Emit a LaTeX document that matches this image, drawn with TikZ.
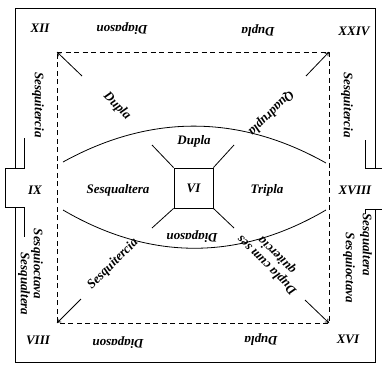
\documentclass[tikz,border=0pt]{standalone}
\usepackage{fontspec}
\setmainfont{Liberation Serif}
\usetikzlibrary{arrows.meta}
\begin{document}
\begin{tikzpicture}[x=1pt,y=-1pt,
  lbl/.style={font=\fontsize{13}{14}\selectfont\bfseries\itshape, inner sep=0pt, align=center},
  num/.style={font=\fontsize{13}{15}\selectfont\bfseries\itshape, inner sep=0pt},
  frm/.style={line width=0.9pt},
  ln/.style={line width=0.8pt},
  dsh/.style={line width=0.8pt, dash pattern=on 5pt off 3.5pt},
  arr/.style={line width=0.8pt, -{To[length=4pt,width=5pt]}}]
\useasboundingbox (0,0) rectangle (382,367);
% outer frame with notches
\draw[frm] (15,168) -- (15,8) -- (375,8) -- (375,168);
\draw[frm] (375,209) -- (375,362) -- (15,362) -- (15,207);
\draw[ln] (24,138) -- (24,168) -- (5,168) -- (5,207) -- (24,207) -- (24,237);
\draw[ln] (365,140) -- (365,168) -- (382,168);
\draw[ln] (382,209) -- (365,209) -- (365,214);
% dashed square
\coordinate (tl) at (57,52);
\coordinate (tr) at (329,52);
\coordinate (br) at (329,323);
\coordinate (bl) at (57,323);
\draw[dsh] (tl) -- (tr) -- (br) -- (bl) -- cycle;
% corner arrows
\coordinate (atl) at (82,76);
\coordinate (atr) at (306,76);
\coordinate (abr) at (305,300);
\coordinate (abl) at (81,299);
\draw[arr] (atl) -- (tl);
\draw[arr] (atr) -- (tr);
\draw[arr] (abr) -- (br);
\draw[arr] (abl) -- (bl);
% lens
\draw[ln] (63,162) .. controls (150,114) and (239,114) .. (326,163);
\draw[ln] (63,210) .. controls (150,261) and (239,261) .. (326,210);
% central square
\node[draw, line width=0.8pt, minimum width=39pt, minimum height=40pt, inner sep=0pt] (sq) at (193.5,188) {};
\node[lbl] (vi) at (193.5,188) {VI};
\coordinate (s1) at (152,145);
\coordinate (s2) at (234,145);
\coordinate (s3) at (234,228);
\coordinate (s4) at (152,228);
\draw[ln] (sq.north west) -- (s1);
\draw[ln] (sq.north east) -- (s2);
\draw[ln] (sq.south east) -- (s3);
\draw[ln] (sq.south west) -- (s4);
% numerals
\node[num] (n12) at (40,28) {XII};
\node[num] (n24) at (354,31) {XXIV};
\node[num] (n8) at (38,340) {VIII};
\node[num] (n16) at (348,339) {XVI};
\node[num] (n9) at (35,190) {IX};
\node[num] (n18) at (355,190) {XVIII};
% top and bottom bands
\node[lbl, rotate=180] (t1) at (122,29) {Diapason};
\node[lbl, rotate=180] (t2) at (258,31) {Dupla};
\node[lbl, rotate=180] (b1) at (118,343) {Diapason};
\node[lbl, rotate=180] (b2) at (261,340) {Dupla};
% side bands
\node[lbl, rotate=-90] (l1) at (38,105) {Sesquitercia};
\node[lbl, rotate=-90] (r1) at (347,105) {Sesquitercia};
\node[lbl, rotate=-90] (l2) at (37,264) {Sesquioctava};
\node[lbl, rotate=-90] (l3) at (24,284) {Sesqualtera};
\node[lbl, rotate=-90] (r2) at (366,245) {Sesqualtera};
\node[lbl, rotate=-90] (r3) at (349,268) {Sesquioctava};
% inner labels
\node[lbl] (c1) at (194,141) {Dupla};
\node[lbl] (c2) at (118,190) {Sesqualtera};
\node[lbl] (c3) at (267,190) {Tripla};
\node[lbl, rotate=180] (c4) at (192,237) {Diapason};
% diagonal labels
\node[lbl, rotate=-45] (d1) at (117,106) {Dupla};
\node[lbl, rotate=225] (d2) at (271,113) {Quadrupla};
\node[lbl, rotate=45] (d3) at (113,264) {Sesquitercia};
\node[lbl, rotate=135] (d4) at (272,260) {Dupla cum ses\\quitercia};
\end{tikzpicture}
\end{document}
